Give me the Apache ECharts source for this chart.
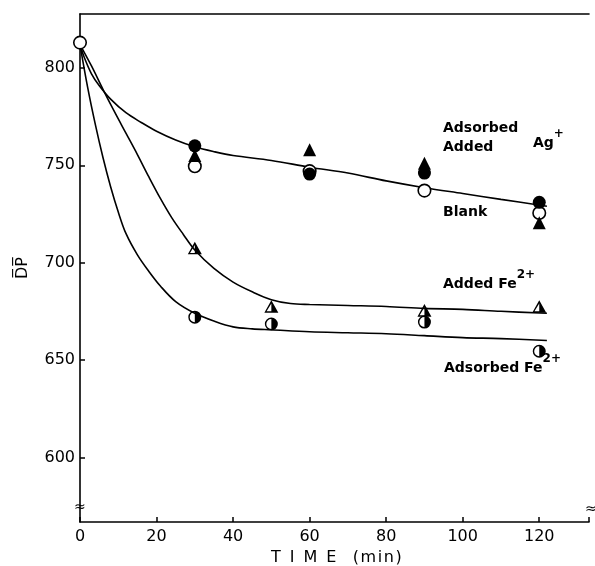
<!DOCTYPE html>
<html>
<head>
<meta charset="utf-8">
<script src="https://cdn.jsdelivr.net/npm/echarts@6/dist/echarts.min.js"></script>
<style>
html,body{margin:0;padding:0;background:#fff;}
#c{width:595px;height:566px;}
</style>
</head>
<body>
<div id="c"></div>
<script>
// ---- data ----
const xTicks = [0, 20, 40, 60, 80, 100, 120];
const yTicks = [600, 650, 700, 750, 800];

// Blank (open circles)
const blankT  = [0, 30, 60, 90, 120];
const blankDP = [813, 749.5, 747, 737, 725.5];
// Adsorbed Ag+ (filled circles)
const adsAgT  = [30, 60, 90, 120];
const adsAgDP = [760, 745.5, 746, 731];
// Added Ag+ (filled triangles)
const addAgT  = [30, 60, 90, 120];
const addAgDP = [755, 758, 751, 720.5];
// Added Fe2+ (half-filled triangles)
const addFeT  = [30, 50, 90, 120];
const addFeDP = [707.5, 677.5, 675.5, 677.5];
// Adsorbed Fe2+ (half-filled circles)
const adsFeT  = [30, 50, 90, 120];
const adsFeDP = [672, 668.5, 669.5, 654.5];

// fitted curves
const curveAgT  = [0, 1, 3, 5, 8, 12, 16, 20, 25, 30, 35, 40, 50, 60, 70, 80, 90, 100, 110, 122];
const curveAgDP = [812, 806, 797, 791, 784, 777, 772, 767.5, 763, 759.5, 757, 755, 752.5, 749, 746, 742, 738.5, 735.5, 732.5, 729];
const curveAddFeT  = [0, 3, 6, 9, 12, 15, 18, 21, 24, 27, 30, 35, 40, 45, 50, 55, 60, 70, 80, 90, 100, 110, 122];
const curveAddFeDP = [812, 801, 789, 777.5, 766.5, 755.5, 744, 733, 723, 714.5, 706.5, 697, 690, 685, 681, 679, 678.5, 678, 677.5, 676.5, 676, 675, 674];
const curveAdsFeT  = [0, 2, 4, 6, 8, 10, 12, 15, 18, 21, 25, 30, 35, 40, 45, 50, 60, 70, 80, 90, 100, 110, 122];
const curveAdsFeDP = [812, 790, 771, 754, 739, 726, 715, 704, 695.5, 688, 680, 674, 670, 667, 666, 665.5, 664.5, 664, 663.5, 662.5, 661.5, 661, 660];

const zip = (a, b) => a.map((v, i) => [v, b[i]]);

const halfCircle = 'path://M0,10 A10,10 0 1,0 20,10 A10,10 0 1,0 0,10 Z M2.2,10 A7.8,7.8 0 1,1 17.8,10 A7.8,7.8 0 1,1 2.2,10 Z M10,2.2 A7.8,7.8 0 0,1 10,17.8 Z';
const halfTri = 'path://M10,0 L20,18 L0,18 Z M10,4.6 L3.2,16 L16.8,16 Z M10,4.6 L16.8,16 L10,16 Z';

const FONT = 'DejaVu Sans';
const chart = echarts.init(document.getElementById('c'), null, {renderer: 'canvas'});

function lineSeries(t, v) {
  return {
    type: 'line', data: zip(t, v), smooth: 0.35, showSymbol: false, silent: true,
    lineStyle: {color: '#000', width: 1.6}, z: 2
  };
}
function pts(t, v, symbol, size, color, border) {
  return {
    type: 'scatter', data: zip(t, v), symbol: symbol, symbolSize: size, symbolKeepAspect: true,
    itemStyle: {color: color, borderColor: border ? '#000' : null, borderWidth: border ? 1.6 : 0, opacity: 1},
    z: 3
  };
}
const supRich = {
  b: {fontFamily: FONT, fontSize: 14, fontWeight: 'bold', fill: '#000', lineHeight: 22, verticalAlign: 'bottom'},
  s: {fontFamily: FONT, fontSize: 12, fontWeight: 'bold', fill: '#000', lineHeight: 22, verticalAlign: 'top'}
};

const option = {
  backgroundColor: '#fff',
  animation: false,
  grid: {left: 80, right: 6, top: 14, bottom: 44, show: false, outerBoundsMode: 'none', containLabel: false},
  xAxis: [{
    type: 'value', min: 0, max: 133, interval: 20,
    axisLine: {show: true, lineStyle: {color: '#000', width: 1.6}},
    axisTick: {show: true, inside: true, length: 5, lineStyle: {color: '#000', width: 1.5}},
    axisLabel: {color: '#000', fontFamily: FONT, fontSize: 16, margin: 7, customValues: xTicks},
    splitLine: {show: false},
    name: '{t|T}{t|I}{t|M}{t|E}{g| }{m|(}{m|m}{m|i}{m|n}{m|)}', nameLocation: 'middle', nameGap: 25,
    nameTextStyle: {color: '#000', fontFamily: FONT, fontSize: 16, rich: {
      t: {fontFamily: FONT, fontSize: 16, padding: [0, 4.5]},
      g: {fontFamily: FONT, fontSize: 16, padding: [0, 3]},
      m: {fontFamily: FONT, fontSize: 16, padding: [0, 0.8]}
    }}
  }, {
    type: 'value', min: 0, max: 133, position: 'top',
    axisLine: {show: true, onZero: false, lineStyle: {color: '#000', width: 1.6}},
    axisTick: {show: false}, axisLabel: {show: false}, splitLine: {show: false}
  }],
  yAxis: {
    type: 'value', min: 566.8, max: 827.7,
    axisLine: {show: true, lineStyle: {color: '#000', width: 1.6}},
    axisTick: {show: true, inside: true, length: 5, lineStyle: {color: '#000', width: 1.5},
      customValues: yTicks},
    axisLabel: {color: '#000', fontFamily: FONT, fontSize: 16, margin: 5, customValues: yTicks},
    splitLine: {show: false},
    name: 'D\u0305P\u0305', nameLocation: 'middle', nameGap: 49, nameRotate: 90,
    nameTextStyle: {color: '#000', fontFamily: FONT, fontSize: 16}
  },
  series: [
    lineSeries(curveAgT, curveAgDP),
    lineSeries(curveAddFeT, curveAddFeDP),
    lineSeries(curveAdsFeT, curveAdsFeDP),
    pts(blankT, blankDP, 'circle', 12.5, '#fff', true),
    pts(addAgT, addAgDP, 'triangle', 13, '#000', false),
    pts(adsAgT, adsAgDP, 'circle', 13, '#000', false),
    pts(addFeT, addFeDP, halfTri, 14, '#000', false),
    pts(adsFeT, adsFeDP, halfCircle, 13, '#000', false)
  ],
  graphic: [
    {type: 'text', left: 443, top: 121, style: {text: 'Adsorbed', fontFamily: FONT, fontSize: 14, fontWeight: 'bold', fill: '#000'}},
    {type: 'text', left: 443, top: 140, style: {text: 'Added', fontFamily: FONT, fontSize: 14, fontWeight: 'bold', fill: '#000'}},
    {type: 'text', left: 533, top: 128, style: {text: '{b|Ag}{s|+}', rich: supRich}},
    {type: 'text', left: 443, top: 205, style: {text: 'Blank', fontFamily: FONT, fontSize: 14, fontWeight: 'bold', fill: '#000'}},
    {type: 'text', left: 443, top: 269, style: {text: '{b|Added Fe}{s|2+}', rich: supRich}},
    {type: 'text', left: 444, top: 353, style: {text: '{b|Adsorbed Fe}{s|2+}', rich: supRich}},
    {type: 'text', left: 74, top: 500, style: {text: '\u2248', fontFamily: FONT, fontSize: 14, fill: '#000', backgroundColor: '#fff'}},
    {type: 'text', left: 585, top: 502, style: {text: '\u2248', fontFamily: FONT, fontSize: 14, fill: '#000'}}
  ]
};
chart.setOption(option);
</script>
</body>
</html>
